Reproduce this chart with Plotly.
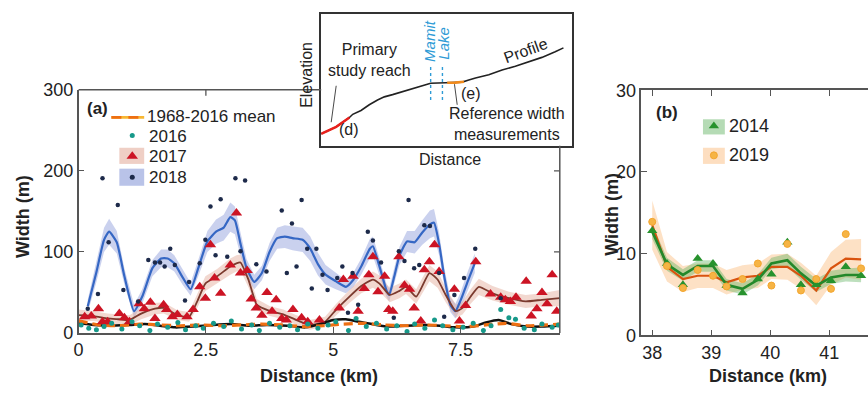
import plotly.graph_objects as go

W, H = 868, 401
FONT = "Liberation Sans, Arial, Helvetica, sans-serif"

# ---------------- Panel (a) data ----------------
x18_fit = [0.18,0.35,0.5,0.6,0.75,0.9,1.09,1.25,1.45,1.62,1.75,1.88,2.05,2.2,2.35,2.53,2.7,2.85,2.98,3.07,
           3.18,3.3,3.45,3.6,3.75,3.9,4.05,4.2,4.4,4.55,4.7,4.85,5.05,5.25,5.4,5.55,5.72,5.78,5.9,6.05,
           6.1,6.2,6.3,6.45,6.6,6.75,6.9,6.98,7.08,7.18,7.3,7.4,7.5,7.65,7.78]
y18_fit = [33,75,115,125,112,70,27,45,80,92,92,86,68,54,80,113,125,130,143,139,
           110,80,63,74,100,117,119,117,115,104,85,72,64,57,66,82,104,107,84,52,
           47,70,95,113,112,124,134,136,110,70,35,27,40,65,86]
h18_fit = [8,12,15,16,14,10,8,9,10,11,11,10,9,8,10,13,15,16,18,17,
           14,11,9,9,11,13,14,15,15,15,14,12,10,8,9,10,12,12,10,8,
           8,9,11,13,14,15,17,17,14,11,9,9,10,12,12]

x18 = [0.18,0.38,0.47,0.59,0.77,0.88,1.17,1.37,1.50,1.60,1.69,1.80,1.89,2.09,2.17,2.38,2.49,2.59,2.69,2.79,
       2.92,3.08,3.18,3.27,3.49,3.69,3.99,4.09,4.19,4.28,4.38,4.49,4.58,4.67,4.79,4.89,5.08,5.18,5.29,5.38,
       5.49,5.68,5.78,5.94,6.19,6.29,6.40,6.48,6.59,6.69,6.79,6.90,7.08,7.18,7.38,7.57,7.79,8.29]
y18 = [30,48,191,112,158,53,39,90,87,87,82,104,84,40,63,86,115,156,96,165,
       94,191,101,188,85,76,151,74,135,82,164,104,55,104,72,53,68,82,25,74,
       35,125,114,87,19,101,89,164,80,84,133,132,74,20,47,68,104,43]

x17 = [0.12,0.25,0.39,0.47,0.57,0.80,0.90,1.00,1.19,1.29,1.41,1.50,1.67,1.73,1.84,1.94,2.13,2.25,2.38,2.49,
       2.59,2.67,2.79,2.98,3.10,3.18,3.31,3.39,3.49,3.60,3.70,3.80,3.88,3.99,4.08,4.21,4.38,4.50,4.73,5.12,
       5.20,5.39,5.49,5.61,5.70,5.78,5.88,6.01,6.09,6.17,6.29,6.40,6.50,6.59,6.72,6.79,6.89,6.99,7.08,7.38,
       7.48,7.60,7.80,8.09,8.29,8.38,8.48,8.59,8.79,8.89,9.00,9.10,9.20,9.30,9.39]
y17 = [20,21,30,14,14,24,19,14,36,30,38,18,35,29,20,23,20,29,57,43,
       109,68,49,84,148,74,77,42,31,22,50,27,41,18,16,29,19,14,16,31,
       66,70,27,55,72,94,51,70,29,27,94,59,54,31,15,78,88,109,76,54,
       15,34,88,48,44,41,39,44,64,21,30,50,36,72,27]

x17_fit = [0.0,0.3,0.57,0.8,1.0,1.23,1.5,1.67,1.94,2.17,2.33,2.49,2.72,2.98,3.1,3.18,3.34,3.5,3.76,4.02,
           4.28,4.54,4.84,5.06,5.32,5.55,5.78,5.91,6.11,6.3,6.43,6.63,6.89,7.05,7.21,7.41,7.54,7.7,7.86,8.13,
           8.45,8.78,9.1,9.45]
y17_fit = [22,21,18,17,16,24,30,31,22,20,39,61,70,82,86,87,65,35,27,23,
           16,10,14,29,45,58,66,61,47,52,57,45,74,66,47,27,31,45,57,49,
           43,39,41,43]
h17_fit = [7,6,6,6,6,7,7,7,6,6,8,9,9,10,10,10,9,7,6,6,
           6,6,6,7,8,9,10,10,9,9,9,9,10,10,9,8,8,9,10,9,
           8,8,8,10]

x16 = [0.05,0.2,0.35,0.5,0.65,0.85,1.05,1.2,1.4,1.55,1.75,1.95,2.1,2.3,2.45,2.65,2.85,3.0,3.2,3.4,
       3.55,3.75,3.95,4.15,4.3,4.5,4.7,4.9,5.05,5.3,5.45,5.65,5.85,6.05,6.25,6.45,6.6,6.8,6.99,7.15,
       7.35,7.55,7.75,7.95,8.1,8.29,8.45,8.58,8.75,8.95,9.1,9.3,9.42]
y16 = [10,6,4,8,12,5,14,9,3,11,7,13,4,9,6,12,8,15,5,10,
       3,12,7,9,4,11,6,10,14,3,18,8,12,5,9,2,11,6,16,9,
       4,7,12,3,9,29,19,17,6,4,11,7,10]
x16_fit = [0.0,0.3,0.6,1.0,1.3,1.6,1.9,2.25,2.65,3.0,3.35,3.7,4.1,4.45,4.8,5.0,5.25,5.5,5.85,6.1,
           6.4,6.8,7.1,7.4,7.75,8.0,8.25,8.5,8.8,9.1,9.45]
y16_fit = [12,10,9,10,11,9,7,8,10,11,9,10,9,7,12,16,17,14,10,8,
           9,10,9,7,8,13,16,11,8,8,9]

x_mean = [0.0,0.4,0.8,1.2,1.6,2.0,2.4,2.8,3.2,3.6,4.0,4.4,4.8,5.2,5.6,6.0,6.4,6.8,7.2,7.6,8.0,8.4,8.8,9.2,9.45]
y_mean = [15,10,9,11,10,9,10,9,10,11,10,8,9,11,12,10,9,10,9,8,10,12,9,10,11]

a_xticks = [0, 2.5, 5, 7.5]
a_xticktext = ["0", "2.5", "5", "7.5"]
a_yticks = [0, 100, 200, 300]

# ---------------- Panel (b) data ----------------
xb = [38.0,38.25,38.52,38.77,39.03,39.26,39.53,39.79,40.02,40.29,40.52,40.78,41.03,41.28,41.54]
y14 = [12.8,8.8,6.2,9.4,8.8,6.1,5.2,6.9,7.5,11.4,6.2,6.2,6.7,8.4,7.3]
y19 = [13.9,8.5,5.8,8.0,7.3,6.0,6.9,8.8,6.1,11.2,5.5,6.9,5.7,12.4,8.2]
y14_fit = [12.7,8.7,7.4,8.5,8.5,6.2,5.7,6.8,8.8,9.2,7.6,6.1,7.1,7.4,7.4]
y19_fit = [13.5,8.4,6.9,7.3,7.3,6.5,7.1,7.3,8.4,8.4,7.3,5.5,8.2,9.4,9.3]
h14_fit = [0.9,0.8,0.7,0.7,0.7,0.7,0.7,0.7,0.7,0.8,0.8,0.8,0.8,0.8,0.9]
h19_fit = [3.0,1.8,1.6,1.5,1.5,1.5,1.5,1.5,1.5,1.6,1.6,1.8,2.0,2.3,2.5]
b_xticks = [38, 39, 40, 41]
b_yticks = [0, 10, 20, 30]

# ---------------- Inset schematic (arbitrary units 0-100) ----------------
prof_x = [0,6.0,11.3,12.6,15.9,19.2,22.5,25.2,28.5,32.5,36.4,40.4,43.7,49.7,56.3,58.9,61.6,66.9,72.2,77.5,82.8,88.1,93.4,96.7]
prof_y = [9.1,14.4,21.5,23.9,26.8,31.1,34.7,37.1,38.8,41.1,43.1,45.5,47.4,47.8,48.3,49.8,51.4,53.8,57.4,60.3,63.4,67.0,71.3,74.2]
reach_x = [0,6.0,11.3]
reach_y = [9.1,14.4,21.5]
ref_x = [50.3,53.5,57.0]
ref_y = [47.8,47.9,48.6]
lake_x = [43.7, 48.4]

# ---------------- helpers ----------------
def PX(x):
    return x / W

def PY(y):
    return 1 - y / H

fig = go.Figure()

def band(x, y, h, color, xa, ya):
    xs = list(x) + list(x)[::-1]
    up = [a + b for a, b in zip(y, h)]
    lo = [a - b for a, b in zip(y, h)]
    ys = up + lo[::-1]
    fig.add_trace(go.Scatter(x=xs, y=ys, fill="toself", fillcolor=color, mode="lines",
                             line=dict(width=0), xaxis=xa, yaxis=ya, hoverinfo="skip",
                             showlegend=False))

# Panel (a)
C18_BAND = "rgba(128,146,214,0.42)"
C17_BAND = "rgba(226,168,150,0.45)"
band(x18_fit, y18_fit, h18_fit, C18_BAND, "x", "y")
band(x17_fit, y17_fit, h17_fit, C17_BAND, "x", "y")
fig.add_trace(go.Scatter(x=x18_fit, y=y18_fit, mode="lines", line=dict(color="#3567c4", width=2.2, shape="spline", smoothing=0.5),
                         xaxis="x", yaxis="y", showlegend=False))
fig.add_trace(go.Scatter(x=x17_fit, y=y17_fit, mode="lines", line=dict(color="#7b3a2e", width=1.8, shape="spline", smoothing=0.5),
                         xaxis="x", yaxis="y", showlegend=False))
fig.add_trace(go.Scatter(x=x16_fit, y=y16_fit, mode="lines", line=dict(color="#111111", width=2.5, shape="spline", smoothing=0.6),
                         xaxis="x", yaxis="y", showlegend=False))
fig.add_trace(go.Scatter(x=x_mean, y=y_mean, mode="lines", line=dict(color="#ee6f12", width=3.2, dash="9px,5px", shape="spline", smoothing=0.6),
                         xaxis="x", yaxis="y", showlegend=False))
fig.add_trace(go.Scatter(x=x17, y=y17, mode="markers", marker=dict(symbol="triangle-up", size=10, color="#cc1424"),
                         xaxis="x", yaxis="y", showlegend=False))
fig.add_trace(go.Scatter(x=x18, y=y18, mode="markers", marker=dict(size=4.5, color="#1d2a4a"),
                         xaxis="x", yaxis="y", showlegend=False))
fig.add_trace(go.Scatter(x=x16, y=y16, mode="markers", marker=dict(size=5, color="#17998a"),
                         xaxis="x", yaxis="y", showlegend=False))

# Panel (b)
band(xb, y19_fit, h19_fit, "rgba(251,200,150,0.55)", "x2", "y2")
band(xb, y14_fit, h14_fit, "rgba(90,175,90,0.40)", "x2", "y2")
fig.add_trace(go.Scatter(x=xb, y=y19_fit, mode="lines", line=dict(color="#d9530f", width=2.2),
                         xaxis="x2", yaxis="y2", showlegend=False))
fig.add_trace(go.Scatter(x=xb, y=y14_fit, mode="lines", line=dict(color="#23882a", width=2.6),
                         xaxis="x2", yaxis="y2", showlegend=False))
fig.add_trace(go.Scatter(x=xb, y=y14, mode="markers", marker=dict(symbol="triangle-up", size=9, color="#27922d"),
                         xaxis="x2", yaxis="y2", showlegend=False))
fig.add_trace(go.Scatter(x=xb, y=y19, mode="markers", marker=dict(size=7, color="#f6b445", line=dict(color="#f3a52e", width=1)),
                         xaxis="x2", yaxis="y2", showlegend=False))

# Inset
fig.add_trace(go.Scatter(x=prof_x, y=prof_y, mode="lines", line=dict(color="#222", width=1.6),
                         xaxis="x3", yaxis="y3", showlegend=False))
fig.add_trace(go.Scatter(x=reach_x, y=reach_y, mode="lines", line=dict(color="#e8201c", width=2.4),
                         xaxis="x3", yaxis="y3", showlegend=False))
fig.add_trace(go.Scatter(x=ref_x, y=ref_y, mode="lines", line=dict(color="#f08a1c", width=2.6),
                         xaxis="x3", yaxis="y3", showlegend=False))
for lx in lake_x:
    fig.add_trace(go.Scatter(x=[lx, lx], y=[59.7, 34.5], mode="lines", line=dict(color="#2e9bd6", width=1.4, dash="dot"),
                             xaxis="x3", yaxis="y3", showlegend=False))
fig.add_trace(go.Scatter(x=[6.0, 4.0], y=[45.5, 17.9], mode="lines", line=dict(color="#333", width=0.9),
                         xaxis="x3", yaxis="y3", showlegend=False))
fig.add_trace(go.Scatter(x=[53.2, 54.3], y=[46.7, 31.1], mode="lines", line=dict(color="#333", width=0.9),
                         xaxis="x3", yaxis="y3", showlegend=False))

# Manual legends on a pixel overlay axis
def leg_rect(x0, x1, y0, y1, color):
    fig.add_trace(go.Scatter(x=[x0, x1, x1, x0, x0], y=[y0, y0, y1, y1, y0], mode="lines", fill="toself",
                             fillcolor=color, line=dict(width=0), xaxis="x4", yaxis="y4", showlegend=False, hoverinfo="skip"))

fig.add_trace(go.Scatter(x=[107, 140], y=[113, 113], mode="lines", line=dict(color="#f7b733", width=2.8),
                         xaxis="x4", yaxis="y4", showlegend=False))
fig.add_trace(go.Scatter(x=[107, 140], y=[113, 113], mode="lines", line=dict(color="#ee6f12", width=2.8, dash="10px,7px"),
                         xaxis="x4", yaxis="y4", showlegend=False))
fig.add_trace(go.Scatter(x=[128], y=[132], mode="markers", marker=dict(size=5, color="#17998a"),
                         xaxis="x4", yaxis="y4", showlegend=False))
leg_rect(115, 140, 145, 162, "rgba(226,168,150,0.55)")
fig.add_trace(go.Scatter(x=[128], y=[154], mode="markers", marker=dict(symbol="triangle-up", size=10, color="#cc1424"),
                         xaxis="x4", yaxis="y4", showlegend=False))
leg_rect(115, 140, 167, 185, "rgba(128,146,214,0.55)")
fig.add_trace(go.Scatter(x=[128], y=[176], mode="markers", marker=dict(size=5, color="#1d2a4a"),
                         xaxis="x4", yaxis="y4", showlegend=False))
leg_rect(702, 724, 115, 131, "rgba(90,175,90,0.45)")
fig.add_trace(go.Scatter(x=[713], y=[122], mode="markers", marker=dict(symbol="triangle-up", size=9, color="#27922d"),
                         xaxis="x4", yaxis="y4", showlegend=False))
leg_rect(702, 724, 145, 162, "rgba(251,200,150,0.6)")
fig.add_trace(go.Scatter(x=[713], y=[153], mode="markers", marker=dict(size=7, color="#f6b445", line=dict(color="#f3a52e", width=1)),
                         xaxis="x4", yaxis="y4", showlegend=False))

AX = dict(showgrid=False, zeroline=False, showline=True, linecolor="#555", linewidth=1.5,
          ticks="inside", ticklen=6, tickwidth=1.3, tickcolor="#555",
          tickfont=dict(family=FONT, size=18, color="#222"))

fig.update_layout(
    width=W, height=H, margin=dict(l=0, r=0, t=0, b=0),
    paper_bgcolor="white", plot_bgcolor="rgba(0,0,0,0)",
    font=dict(family=FONT, color="#222"),
    xaxis=dict(**AX, domain=[PX(74), PX(558)], range=[0, 9.45], tickvals=a_xticks, ticktext=a_xticktext,
               anchor="y", mirror=False),
    yaxis=dict(**AX, domain=[PY(340), PY(84)], range=[0, 300], tickvals=a_yticks, anchor="x", mirror=False),
    xaxis2=dict(**AX, domain=[PX(640), 1.0], range=[37.815, 41.657], tickvals=b_xticks, anchor="y2", mirror="ticks"),
    yaxis2=dict(**AX, domain=[PY(342.5), PY(84.5)], range=[0, 30], tickvals=b_yticks, anchor="x2", mirror=False),
    xaxis3=dict(domain=[PX(318), PX(570)], range=[0, 100], showline=True, mirror=True, linecolor="#333", linewidth=1.5,
                showticklabels=False, ticks="", showgrid=False, zeroline=False, anchor="y3"),
    yaxis3=dict(domain=[PY(143), PY(4)], range=[0, 100], showline=True, mirror=True, linecolor="#333", linewidth=1.5,
                showticklabels=False, ticks="", showgrid=False, zeroline=False, anchor="x3"),
    xaxis4=dict(domain=[0, 1], range=[0, W], visible=False, anchor="y4"),
    yaxis4=dict(domain=[0, 1], range=[H, 0], visible=False, anchor="x4"),
)

# Panel (a) partial frame (top and right), interrupted by the inset
LC = "#555"
shapes = [
    dict(type="line", xref="paper", yref="paper", x0=PX(74), x1=PX(318), y0=PY(84), y1=PY(84), line=dict(color=LC, width=1.5)),
    dict(type="line", xref="paper", yref="paper", x0=PX(558), x1=PX(558), y0=PY(340), y1=PY(143), line=dict(color=LC, width=1.5)),
    dict(type="line", xref="x", yref="y domain", x0=2.5, x1=2.5, y0=1, y1=0.976, line=dict(color=LC, width=1.3)),
]
for v in [100, 200]:
    shapes.append(dict(type="line", xref="x domain", yref="y", x0=1, x1=0.988, y0=v, y1=v, line=dict(color=LC, width=1.3)))
fig.update_layout(shapes=shapes)

def ann(text, x, y, size=16, bold=False, angle=0, color="#222", xanchor="center", italic=False):
    t = text
    if bold:
        t = "<b>" + t + "</b>"
    if italic:
        t = "<i>" + t + "</i>"
    fig.add_annotation(text=t, x=PX(x), y=PY(y), xref="paper", yref="paper", showarrow=False,
                       textangle=angle, xanchor=xanchor, yanchor="middle", borderpad=0,
                       font=dict(family=FONT, size=size, color=color))

# Axis titles
ann("Width (m)", 18, 217, size=18, bold=True, angle=-90)
ann("Distance (km)", 316, 385, size=18, bold=True)
ann("Width (m)", 611, 215, size=18, bold=True, angle=-90)
ann("Distance (km)", 767, 385, size=18, bold=True)

# Panel labels & legend texts
ann("(a)", 81, 104, size=17, bold=True, xanchor="left")
ann("1968-2016 mean", 142, 112, size=17, xanchor="left")
ann("2016", 144, 133, size=17, xanchor="left")
ann("2017", 144, 154, size=17, xanchor="left")
ann("2018", 144, 176, size=17, xanchor="left")
ann("(b)", 654, 108, size=17, bold=True, xanchor="left")
ann("2014", 727, 122, size=18, xanchor="left")
ann("2019", 727, 153, size=18, xanchor="left")

# Inset texts
ann("Elevation", 303, 68, size=16, angle=-90)
ann("Distance", 448, 157, size=16)
ann("Primary<br>study reach", 324, 53, size=16, xanchor="left")
ann("(d)", 346, 126, size=16)
ann("(e)", 469, 88, size=16)
ann("Reference width<br>measurements", 446, 120, size=16, xanchor="left")
ann("Profile", 524, 43, size=16, angle=-20)
ann("Mamit", 427, 33, size=15, angle=-90, color="#2e9bd6", italic=True)
ann("Lake", 441, 35, size=15, angle=-90, color="#2e9bd6", italic=True)

fig.write_html("out.html")
